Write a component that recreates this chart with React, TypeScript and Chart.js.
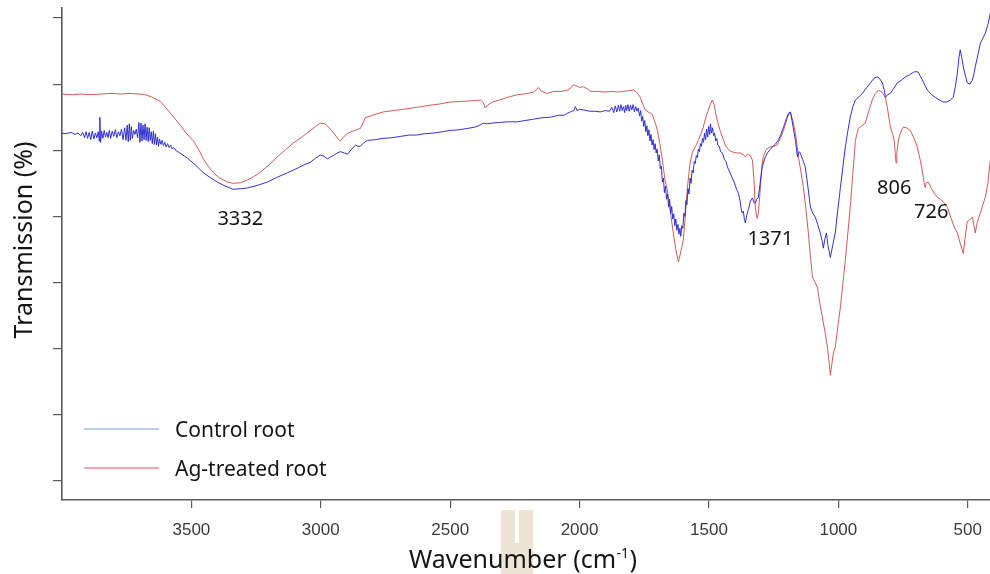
import React, { useEffect, useRef } from 'react';
import { Chart, registerables } from 'chart.js';

Chart.register(...registerables);

// FTIR spectra: [wavenumber (cm-1), transmission (%)]
const controlRoot: [number, number][] = [
  [4000, 72.6], [3985, 72.5], [3965, 72.7], [3950, 72.4], [3938, 72.6], [3928, 72.2], [3920, 72.7], [3913, 71.9],
  [3907, 72.8], [3901, 71.8], [3895, 72.7], [3889, 71.6], [3883, 72.9], [3877, 71.7], [3871, 72.6], [3865, 71.9],
  [3860, 72.8], [3856, 71.4], [3854, 75.0], [3851, 71.2], [3847, 72.9], [3842, 71.8], [3837, 73.0], [3832, 72.0],
  [3827, 72.7], [3822, 71.9], [3817, 73.0], [3812, 71.8], [3806, 72.9], [3800, 72.1], [3794, 73.1], [3788, 71.9],
  [3782, 72.8], [3776, 72.2], [3770, 73.2], [3764, 71.6], [3758, 73.4], [3753, 71.5], [3748, 73.8], [3744, 71.3],
  [3740, 74.0], [3736, 71.5], [3732, 73.6], [3728, 71.8], [3723, 73.0], [3718, 72.4], [3713, 73.2], [3708, 71.9],
  [3703, 74.2], [3699, 71.2], [3695, 74.1], [3691, 71.4], [3687, 73.8], [3683, 71.6], [3679, 74.0], [3675, 71.5],
  [3671, 73.5], [3667, 71.3], [3663, 73.4], [3659, 71.5], [3655, 72.8], [3651, 71.0], [3647, 72.9], [3643, 70.9],
  [3639, 72.5], [3635, 70.8], [3631, 72.0], [3627, 70.6], [3623, 71.7], [3618, 70.9], [3613, 71.5], [3608, 70.7],
  [3603, 71.2], [3598, 70.5], [3592, 71.0], [3586, 70.4], [3580, 70.8], [3574, 70.2], [3568, 70.4], [3558, 69.9],
  [3545, 69.6], [3515, 68.8], [3485, 67.8], [3454, 66.6], [3428, 65.9], [3400, 65.2], [3370, 64.6], [3338, 64.1],
  [3310, 64.2], [3284, 64.3], [3245, 64.7], [3206, 65.2], [3170, 65.9], [3129, 66.6], [3090, 67.3], [3065, 67.8],
  [3040, 68.2], [3020, 68.8], [3002, 69.3],
  [2988, 69.1], [2974, 68.7], [2962, 69.0], [2951, 69.2], [2940, 69.5], [2924, 69.8], [2910, 69.6], [2897, 69.4],
  [2880, 70.2], [2866, 70.8], [2856, 70.6], [2847, 70.6], [2835, 71.1], [2820, 71.5], [2790, 71.6], [2760, 71.8],
  [2725, 71.9], [2692, 72.1], [2660, 72.3], [2630, 72.3], [2600, 72.5], [2565, 72.6], [2530, 72.8], [2500, 73.0],
  [2465, 73.1], [2434, 73.3], [2405, 73.5], [2385, 73.8], [2372, 74.1], [2360, 74.0], [2340, 74.1], [2310, 74.2],
  [2280, 74.3], [2240, 74.3], [2210, 74.5], [2178, 74.7], [2150, 74.9], [2113, 75.0], [2080, 75.3], [2060, 75.3],
  [2047, 75.6], [2030, 75.9], [2022, 76.0], [2016, 76.6], [2010, 76.0], [2000, 76.2], [1985, 76.1], [1960, 75.9],
  [1940, 75.9], [1920, 75.8], [1900, 76.0], [1885, 75.9], [1875, 76.5], [1868, 75.7], [1862, 76.7], [1856, 75.8],
  [1850, 76.8], [1845, 75.9], [1840, 76.9], [1835, 76.0], [1830, 76.6], [1826, 75.7], [1822, 76.8], [1818, 76.0],
  [1813, 76.9], [1808, 75.9], [1803, 76.8], [1798, 76.1], [1793, 76.9], [1788, 75.8], [1783, 76.6], [1778, 75.9],
  [1773, 76.4], [1768, 75.2], [1764, 76.0], [1760, 74.4], [1756, 75.1], [1752, 73.6], [1748, 74.5], [1744, 72.8],
  [1740, 73.7], [1736, 72.2], [1732, 73.1], [1728, 71.4], [1724, 72.4], [1720, 70.8], [1716, 71.6], [1712, 70.1],
  [1708, 71.0], [1704, 69.6], [1700, 70.2], [1696, 68.4], [1692, 69.3], [1688, 67.2], [1684, 67.6], [1680, 65.2],
  [1676, 65.8], [1672, 63.6], [1668, 64.6], [1664, 62.6], [1660, 63.4], [1656, 61.4], [1652, 62.6], [1648, 60.4],
  [1644, 61.5], [1640, 59.6], [1636, 60.4], [1632, 58.6], [1628, 59.6], [1624, 57.9], [1620, 58.8], [1616, 57.3],
  [1612, 58.2], [1609, 57.0], [1605, 58.6], [1601, 58.2], [1597, 60.5], [1593, 60.0], [1589, 62.4], [1585, 61.8],
  [1581, 64.2], [1577, 63.4], [1573, 65.8], [1569, 65.0], [1565, 67.0], [1561, 66.6], [1557, 68.3], [1553, 68.0],
  [1549, 69.2], [1545, 68.9], [1541, 70.2], [1537, 69.8], [1533, 71.0], [1529, 70.6], [1525, 71.8], [1521, 71.2],
  [1517, 72.6], [1513, 71.6], [1509, 73.2], [1505, 72.0], [1501, 73.6], [1497, 72.4], [1494, 74.0], [1490, 72.6],
  [1486, 73.4], [1482, 72.2], [1478, 72.6], [1474, 71.4], [1470, 71.8], [1466, 70.8], [1460, 70.6], [1455, 69.8],
  [1448, 69.6], [1440, 68.6], [1434, 68.3], [1429, 67.5], [1422, 66.9], [1416, 66.4], [1410, 65.8], [1406, 65.5],
  [1400, 64.9], [1393, 64.1], [1386, 63.5], [1380, 62.4], [1375, 61.0], [1371, 60.5], [1367, 60.8], [1363, 59.5],
  [1359, 59.0], [1354, 60.2], [1348, 61.0], [1340, 62.3], [1332, 62.8], [1326, 62.1], [1321, 62.0], [1315, 62.6],
  [1309, 62.9], [1303, 64.8], [1294, 67.5], [1284, 68.8], [1274, 69.6], [1264, 70.1], [1255, 70.5], [1244, 70.9],
  [1232, 71.5], [1222, 72.4], [1212, 73.5], [1200, 74.8], [1193, 75.6], [1185, 75.8], [1175, 73.6], [1166, 71.5],
  [1158, 69.0], [1152, 69.8], [1147, 69.6], [1138, 68.6], [1128, 67.5], [1118, 64.6], [1108, 61.4], [1098, 60.4],
  [1089, 59.9], [1080, 58.8], [1070, 57.5], [1062, 56.2], [1058, 55.2], [1052, 56.6], [1046, 57.5], [1040, 55.6],
  [1031, 53.8], [1022, 55.6], [1012, 57.5], [1002, 61.0], [992, 64.4], [982, 67.6], [973, 70.5], [963, 73.0],
  [954, 75.0], [944, 76.6], [934, 77.6], [920, 78.1], [907, 78.6], [890, 79.5], [876, 80.2], [862, 80.9],
  [849, 81.1], [840, 80.8], [830, 80.2], [822, 79.0], [818, 78.0], [810, 78.4], [799, 78.6], [785, 79.4],
  [772, 80.2], [756, 80.6], [741, 81.1], [725, 81.4], [710, 81.8], [700, 81.9], [691, 81.8], [683, 81.2],
  [675, 80.6], [665, 79.8], [656, 79.1], [640, 78.4], [625, 78.0], [610, 77.6], [594, 77.3], [580, 77.3],
  [567, 77.6], [556, 78.0], [548, 79.6], [540, 81.7], [534, 84.0], [529, 85.2], [523, 84.0], [517, 82.6],
  [510, 81.4], [502, 80.2], [492, 80.0], [482, 80.6], [476, 81.6], [471, 82.6], [461, 84.4], [451, 86.2],
  [441, 87.0], [432, 87.7], [422, 89.0], [413, 90.7],
];

const agTreatedRoot: [number, number][] = [
  [4000, 78.5], [3960, 78.4], [3930, 78.5], [3890, 78.4], [3852, 78.5], [3810, 78.6], [3774, 78.5], [3740, 78.6],
  [3700, 78.5], [3678, 78.4], [3650, 78.0], [3620, 77.4], [3600, 76.5], [3581, 75.6], [3562, 74.7], [3543, 73.8],
  [3520, 72.6], [3492, 71.4], [3470, 70.0], [3454, 68.7], [3435, 67.6], [3415, 66.6], [3390, 65.8], [3361, 65.2],
  [3338, 65.0], [3310, 65.1], [3284, 65.5], [3260, 66.0], [3233, 66.7], [3200, 67.8], [3168, 69.0], [3136, 70.1],
  [3106, 71.1], [3070, 72.1], [3040, 73.0], [3020, 73.6], [3002, 74.1], [2985, 74.0], [2970, 73.5], [2950, 72.6],
  [2935, 71.8], [2924, 71.4], [2912, 72.0], [2895, 72.6], [2870, 73.0], [2847, 73.3], [2836, 74.2], [2828, 74.9],
  [2800, 75.3], [2758, 75.8], [2720, 76.0], [2680, 76.2], [2627, 76.5], [2580, 76.8], [2540, 77.0], [2499, 77.3],
  [2450, 77.4], [2410, 77.5], [2383, 77.6], [2372, 77.2], [2364, 76.4], [2356, 76.8], [2348, 77.0], [2337, 77.3],
  [2310, 77.6], [2279, 78.0], [2240, 78.4], [2200, 78.6], [2178, 78.8], [2165, 79.2], [2159, 79.5], [2150, 79.0],
  [2135, 78.7], [2124, 78.6], [2100, 78.9], [2070, 78.9], [2047, 79.1], [2035, 79.4], [2024, 79.9], [2015, 79.8],
  [2000, 79.5], [1985, 79.6], [1970, 79.3], [1958, 78.9], [1930, 78.9], [1900, 78.8], [1880, 78.9], [1854, 78.8],
  [1830, 78.9], [1810, 79.0], [1792, 79.1], [1780, 78.8], [1765, 78.0], [1755, 76.9], [1746, 76.1], [1735, 75.8],
  [1725, 75.6], [1719, 75.4], [1712, 74.6], [1705, 73.8], [1699, 73.0], [1690, 71.0], [1680, 68.5], [1670, 65.5],
  [1661, 64.0], [1650, 61.0], [1638, 57.5], [1628, 55.0], [1618, 53.1], [1608, 54.8], [1599, 56.4], [1590, 60.8],
  [1583, 64.4], [1574, 67.8], [1564, 69.7], [1552, 70.6], [1541, 71.5], [1530, 72.6], [1522, 73.5], [1512, 75.0],
  [1502, 76.1], [1494, 77.0], [1487, 77.6], [1480, 76.9], [1472, 75.2], [1467, 74.4], [1458, 73.1], [1448, 72.0],
  [1438, 70.9], [1429, 70.3], [1418, 69.9], [1406, 69.7], [1392, 69.6], [1379, 69.6], [1367, 69.3], [1359, 69.0],
  [1352, 69.4], [1348, 69.4], [1340, 69.2], [1332, 68.5], [1326, 65.5], [1321, 61.4], [1316, 60.0], [1313, 59.7],
  [1309, 60.6], [1302, 64.0], [1296, 67.5], [1290, 69.0], [1280, 70.0], [1270, 70.4], [1263, 70.5], [1250, 70.6],
  [1236, 70.8], [1224, 71.8], [1212, 73.0], [1204, 74.0], [1197, 75.0], [1190, 75.5], [1185, 75.6], [1176, 74.5],
  [1166, 72.6], [1160, 70.8], [1154, 69.0], [1145, 66.8], [1135, 64.4], [1125, 61.0], [1116, 57.5], [1108, 54.0],
  [1100, 50.8], [1090, 50.0], [1081, 49.3], [1070, 46.5], [1062, 44.8], [1052, 42.6], [1042, 40.2], [1036, 38.0],
  [1031, 36.0], [1024, 38.0], [1018, 39.6], [1012, 40.2], [1002, 43.4], [992, 46.3], [982, 50.0], [973, 53.4],
  [963, 57.6], [954, 61.4], [944, 66.5], [934, 71.5], [923, 73.3], [910, 73.7], [896, 74.1], [882, 76.0],
  [869, 77.6], [857, 78.6], [845, 79.1], [832, 78.8], [818, 78.0], [808, 75.8], [799, 73.5], [790, 72.4],
  [784, 71.4], [780, 69.5], [777, 68.1], [774, 69.6], [770, 71.0], [764, 72.2], [755, 73.1], [749, 73.5],
  [736, 73.4], [722, 73.0], [710, 72.0], [695, 70.5], [683, 68.4], [671, 65.9], [667, 64.6], [664, 64.4],
  [660, 65.1], [652, 65.2], [640, 64.2], [628, 63.4], [617, 62.9], [605, 62.6], [590, 62.0], [579, 61.4],
  [565, 59.8], [550, 58.2], [540, 57.5], [528, 55.8], [517, 54.4], [510, 56.8], [503, 59.0], [498, 59.4],
  [490, 59.6], [482, 59.9], [476, 58.6], [471, 57.5], [465, 58.8], [458, 59.8], [451, 60.5], [443, 61.6],
  [432, 62.9], [422, 65.0], [413, 68.5],
];

const seriesNames = ['Control root', 'Ag-treated root'];
const xTickValues = [3500, 3000, 2500, 2000, 1500, 1000, 500];
const yTickValues = [20, 30, 40, 50, 60, 70, 80, 90];

// Band annotations: text and where it sits (wavenumber, transmission)
const peakLabels = ['3332', '1371', '806', '726'];
const peakLabelWavenumber = [3311, 1263, 784, 641];
const peakLabelTransmission = [59.5, 56.6, 64.2, 60.7];

const CONTROL_COLOR = 'rgba(38, 38, 208, 0.95)';
const AG_COLOR = 'rgba(204, 72, 72, 0.9)';
const CONTROL_KEY_COLOR = '#7d9bd8';
const AG_KEY_COLOR = '#f04c4c';
const AXIS_COLOR = '#5a5a5a';
const TEXT_COLOR = '#151515';
const LABEL_FONT = '"Noto Sans", "Open Sans", sans-serif';

const decorPlugin = {
  id: 'spectrumDecor',
  beforeDraw(chart: any) {
    const { ctx, width, height } = chart;
    ctx.save();
    ctx.fillStyle = '#ffffff';
    ctx.fillRect(0, 0, width, height);
    // beige tab mark behind the x-axis title
    ctx.fillStyle = '#ede4d5';
    ctx.fillRect(501, 510, 32, 64);
    ctx.fillStyle = '#ffffff';
    ctx.fillRect(515, 510, 4, 33);
    ctx.restore();
  },
  afterDraw(chart: any) {
    const { ctx, chartArea, scales } = chart;
    ctx.save();
    ctx.fillStyle = TEXT_COLOR;

    // y-axis title
    ctx.save();
    ctx.translate(25, 240);
    ctx.rotate(-Math.PI / 2);
    ctx.font = `400 25px ${LABEL_FONT}`;
    ctx.textAlign = 'center';
    ctx.textBaseline = 'middle';
    ctx.fillText('Transmission (%)', 0, 0);
    ctx.restore();

    // x-axis title with superscript exponent
    const mainFont = `400 25px ${LABEL_FONT}`;
    const supFont = `400 14px ${LABEL_FONT}`;
    const partA = 'Wavenumber (cm';
    const partSup = '-1';
    const partB = ')';
    ctx.font = mainFont;
    const wA = ctx.measureText(partA).width;
    const wB = ctx.measureText(partB).width;
    ctx.font = supFont;
    const wSup = ctx.measureText(partSup).width;
    const total = wA + wSup + wB + 1;
    let tx = 523 - total / 2;
    const baseY = 568;
    ctx.textAlign = 'left';
    ctx.textBaseline = 'alphabetic';
    ctx.font = mainFont;
    ctx.fillText(partA, tx, baseY);
    tx += wA;
    ctx.font = supFont;
    ctx.fillText(partSup, tx + 0.5, baseY - 10);
    tx += wSup + 1;
    ctx.font = mainFont;
    ctx.fillText(partB, tx, baseY);

    // legend keys
    const keyLeft = chartArea.left + 22;
    const keyRight = chartArea.left + 97;
    const keyText = chartArea.left + 113;
    const rows = [
      { y: chartArea.bottom - 71, color: CONTROL_KEY_COLOR, text: seriesNames[0] },
      { y: chartArea.bottom - 32, color: AG_KEY_COLOR, text: seriesNames[1] },
    ];
    ctx.font = `400 21px ${LABEL_FONT}`;
    ctx.textBaseline = 'middle';
    rows.forEach((r) => {
      ctx.strokeStyle = r.color;
      ctx.lineWidth = 1.2;
      ctx.beginPath();
      ctx.moveTo(keyLeft, r.y);
      ctx.lineTo(keyRight, r.y);
      ctx.stroke();
      ctx.fillStyle = TEXT_COLOR;
      ctx.fillText(r.text, keyText, r.y + 2);
    });

    // band annotations
    ctx.font = `400 20px ${LABEL_FONT}`;
    ctx.textAlign = 'center';
    ctx.textBaseline = 'middle';
    ctx.fillStyle = TEXT_COLOR;
    peakLabels.forEach((t, i) => {
      const px = scales.x.getPixelForValue(peakLabelWavenumber[i]);
      const py = scales.y.getPixelForValue(peakLabelTransmission[i]);
      ctx.fillText(t, px, py);
    });
    ctx.restore();
  },
};

export default function App() {
  const canvasRef = useRef<HTMLCanvasElement | null>(null);

  useEffect(() => {
    const canvas = canvasRef.current;
    if (!canvas) return;
    const chart = new Chart(canvas, {
      type: 'line',
      data: {
        datasets: [
          {
            label: seriesNames[0],
            data: controlRoot.map(([x, y]) => ({ x, y })),
            borderColor: CONTROL_COLOR,
            borderWidth: 1,
            pointRadius: 0,
            tension: 0,
            fill: false,
          },
          {
            label: seriesNames[1],
            data: agTreatedRoot.map(([x, y]) => ({ x, y })),
            borderColor: AG_COLOR,
            borderWidth: 1,
            pointRadius: 0,
            tension: 0,
            fill: false,
          },
        ],
      },
      options: {
        responsive: false,
        animation: false,
        devicePixelRatio: 1,
        parsing: false,
        normalized: true,
        layout: { padding: { top: 8, left: 0, right: 0, bottom: 0 } },
        plugins: {
          legend: { display: false },
          tooltip: { enabled: false },
          title: { display: false },
        },
        scales: {
          x: {
            type: 'linear',
            reverse: true,
            min: 414,
            max: 4000,
            afterBuildTicks: (scale: any) => {
              scale.ticks = xTickValues.map((v) => ({ value: v }));
            },
            afterFit: (scale: any) => {
              scale.height = 74;
              scale.paddingLeft = 0;
              scale.paddingRight = 0;
            },
            grid: {
              drawOnChartArea: false,
              drawTicks: true,
              tickLength: 8,
              color: AXIS_COLOR,
              lineWidth: 1.2,
            },
            border: { display: true, color: AXIS_COLOR, width: 1.6 },
            ticks: {
              autoSkip: false,
              maxRotation: 0,
              padding: 12,
              color: '#3a3a3a',
              font: { family: '"Liberation Sans", Arial, sans-serif', size: 17 },
              callback: (v: any) => String(v),
            },
          },
          y: {
            type: 'linear',
            min: 17.13,
            max: 91.51,
            afterBuildTicks: (scale: any) => {
              scale.ticks = yTickValues.map((v) => ({ value: v }));
            },
            afterFit: (scale: any) => {
              scale.width = 62;
              scale.paddingTop = 0;
              scale.paddingBottom = 0;
            },
            grid: {
              drawOnChartArea: false,
              drawTicks: true,
              tickLength: 9,
              color: AXIS_COLOR,
              lineWidth: 1.2,
            },
            border: { display: true, color: AXIS_COLOR, width: 1.6 },
            ticks: {
              autoSkip: false,
              padding: 0,
              callback: () => '',
            },
          },
        },
      },
      plugins: [decorPlugin],
    } as any);
    return () => chart.destroy();
  }, []);

  return (
    <div style={{ position: 'fixed', left: 0, top: 0, width: 990, height: 574, background: '#fff' }}>
      <canvas ref={canvasRef} width={990} height={574} style={{ width: 990, height: 574, display: 'block' }} />
    </div>
  );
}
